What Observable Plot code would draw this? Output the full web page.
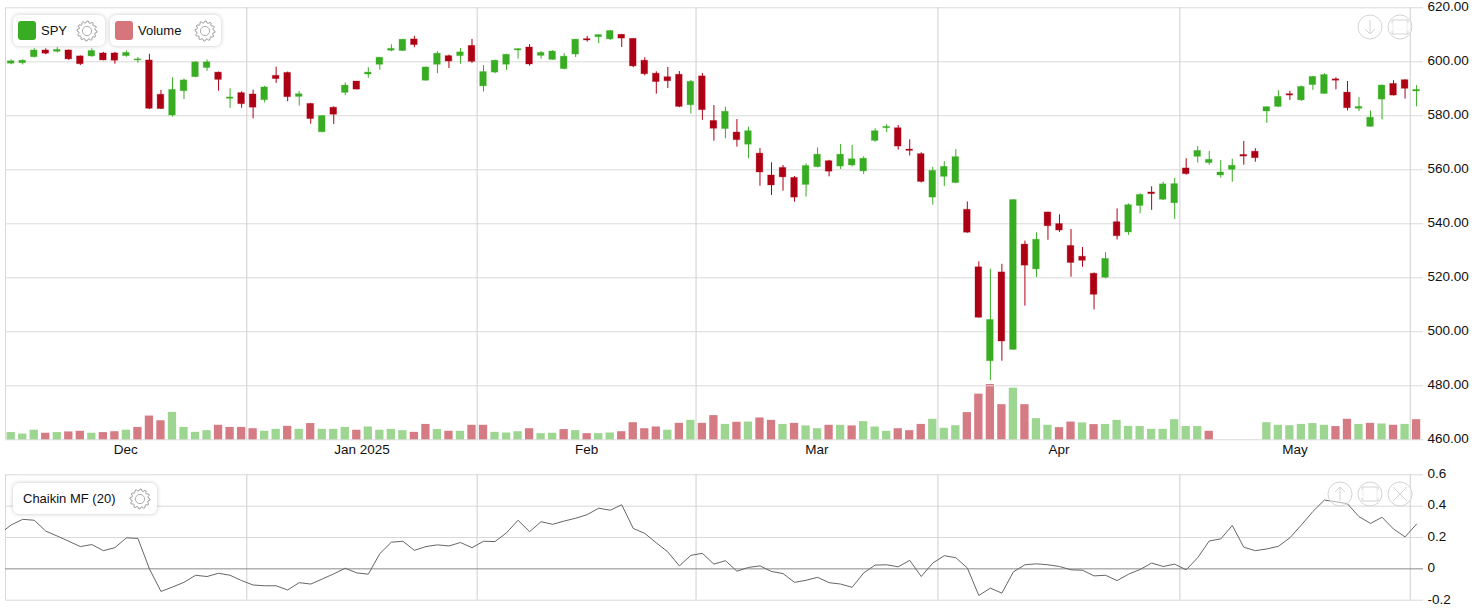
<!DOCTYPE html>
<html>
<head>
<meta charset="utf-8">
<script src="https://cdn.jsdelivr.net/npm/d3@7"></script>
<script src="https://cdn.jsdelivr.net/npm/@observablehq/plot@0.6"></script>
<style>
html,body{margin:0;padding:0;background:#fff;width:1476px;height:614px;overflow:hidden;font-family:"Liberation Sans",Arial,sans-serif;color:#111}
#stage{position:relative;width:1476px;height:614px}
.layer{position:absolute;left:0;top:0}
.legend{position:absolute;height:31px;background:#fff;border-radius:6px;box-shadow:0 0 4px rgba(0,0,0,.22);font-size:13px;line-height:32px;white-space:nowrap}
.legend span{position:absolute;top:0}
.legend i{position:absolute;top:6px;width:18px;height:19px;border-radius:3px;display:block}
.icon{position:absolute}
</style>
</head>
<body>
<div id="stage"></div>
<script>
const open = [
599.3,599.5,601.7,604.2,603.7,604.2,602.0,602.0,603.1,603.1,
602.1,600.5,600.5,587.8,580.1,589.1,594.3,597.7,596.0,586.3,
588.4,587.9,585.8,594.8,595.9,587.0,584.4,573.9,583.0,588.5,
592.7,595.3,598.9,604.1,604.0,608.3,593.0,598.9,602.1,602.1,
605.9,590.9,596.0,598.9,604.2,605.3,602.2,600.7,597.3,602.7,
608.4,609.1,608.3,610.0,608.5,600.4,595.6,594.3,595.2,583.9,
594.6,578.1,575.1,573.8,569.3,566.0,557.9,560.7,557.0,554.4,
561.0,563.2,561.2,561.6,559.4,570.7,575.4,575.4,567.5,565.8,
549.7,557.4,555.1,545.2,523.9,489.1,522.0,493.3,532.3,523.1,
544.2,539.9,531.8,527.8,521.5,520.0,540.6,536.8,546.6,551.6,
548.9,547.6,560.5,564.8,562.5,557.9,560.0,565.5,566.7,581.6,
583.3,588.0,585.7,591.4,588.1,593.5,588.6,582.6,575.9,586.0,
591.8,593.2,589.0];
const close = [
600.2,600.4,604.2,603.0,604.4,600.9,599.1,604.0,600.5,600.4,
603.3,600.9,582.6,582.5,589.6,593.1,599.8,599.8,593.3,586.8,
584.3,583.0,590.5,593.6,586.9,588.0,578.8,579.9,580.4,591.2,
589.7,596.0,601.5,604.8,608.2,606.2,597.9,603.0,600.1,603.5,
600.0,596.2,600.4,602.6,604.7,599.0,603.3,603.8,601.9,608.2,
607.9,609.9,611.4,608.6,598.3,595.4,592.5,592.8,583.3,592.6,
582.1,575.2,581.5,571.0,574.3,559.0,554.2,557.2,549.7,561.4,
565.6,559.3,565.6,563.9,564.1,574.3,575.9,568.6,567.0,555.5,
559.6,561.1,564.7,536.7,505.2,504.4,496.4,548.8,524.5,534.1,
539.1,537.5,525.5,526.3,513.7,527.0,535.4,546.9,550.7,551.0,
554.6,554.7,558.4,567.0,563.7,559.0,561.5,564.9,564.3,583.2,
587.0,587.5,590.7,594.4,595.1,593.0,582.8,583.3,579.3,591.2,
587.5,590.0,589.6];
const high = [
600.7,600.7,604.8,604.8,605.2,604.4,602.2,604.8,603.5,603.5,
604.0,601.6,602.8,589.4,594.1,593.6,600.0,600.7,596.2,590.0,
588.9,589.5,590.9,598.0,596.2,589.0,584.6,580.1,583.3,592.2,
592.7,597.8,601.6,606.3,608.3,609.4,598.1,603.7,602.5,604.9,
608.3,598.6,600.6,602.8,604.8,606.4,603.8,604.1,603.0,608.3,
609.4,610.0,611.6,610.1,608.6,601.5,596.3,597.9,596.4,593.1,
595.7,583.8,583.2,578.6,575.8,567.9,562.6,561.6,557.5,562.2,
568.1,563.5,569.4,569.0,564.8,575.2,576.7,576.4,571.1,566.3,
560.9,563.0,567.5,548.1,525.9,523.2,525.0,548.9,533.6,536.7,
544.3,543.3,537.9,531.2,521.8,529.3,545.5,547.4,551.1,553.7,
555.4,556.8,564.1,568.6,566.8,563.4,563.9,570.5,567.8,583.2,
589.3,589.1,591.0,594.6,595.6,594.1,592.7,586.7,581.8,591.4,
593.0,593.3,591.2];
const low = [
598.9,598.8,601.4,602.6,603.3,600.5,598.6,601.7,600.4,599.1,
601.7,599.5,582.3,582.3,579.5,586.0,594.1,596.5,589.1,582.8,
582.8,578.9,584.8,592.0,585.2,583.6,576.9,573.7,576.8,587.5,
589.6,593.9,596.9,603.7,603.8,605.2,592.8,595.6,597.5,599.1,
599.4,588.8,595.6,596.8,601.0,598.4,601.0,600.6,597.0,601.6,
607.3,606.7,607.9,605.3,597.8,594.8,588.0,590.1,583.0,580.7,
578.3,570.6,571.5,568.4,564.1,553.9,550.5,552.1,548.0,549.9,
560.7,557.4,560.1,561.0,558.3,570.2,573.8,567.3,565.1,555.1,
546.9,553.8,554.8,536.5,505.0,481.9,489.1,493.2,509.5,520.1,
533.9,536.8,520.2,523.9,508.1,519.6,534.0,535.7,543.7,545.0,
548.6,541.6,558.0,562.5,561.7,556.9,555.4,561.7,562.8,577.2,
583.0,585.7,585.4,589.4,588.0,589.6,581.8,581.6,575.8,578.5,
587.3,586.2,583.3];
const volume = [
36,29,47,33,36,39,42,33,36,40,
47,60,113,91,130,60,37,45,70,60,
60,54,42,51,65,51,78,51,51,60,
47,62,47,51,45,37,74,50,42,42,
70,70,37,34,40,54,31,33,50,45,
31,31,34,40,82,54,62,47,79,93,
79,115,74,84,85,104,93,74,79,67,
54,70,70,67,87,62,42,54,45,74,
98,56,68,129,215,260,166,243,166,101,
70,59,85,81,73,74,93,65,64,51,
51,96,64,64,42,0.5,0.5,0.5,0.5,82,
70,68,74,78,70,64,98,74,79,76,
70,74,96];
const volumeSide = (
"gggrgrrgrr"+"grrrggggrr"+"rrggrgrggg"+"rggggrrgrg"+"rrgggrggrg"+
"rggrrrrgrg"+"rrgrgrrgrg"+"grgrgggrrr"+"gggrrrrgrg"+"grrgrggggg"+
"ggggrggggg"+"gggggrrgrg"+"rgr").split("");
const chaikinLead = 0.224;
const chaikin = [
.280,.316,.310,.241,.209,.176,.142,.155,.116,.135,
.198,.194,0,-.144,-.116,-.086,-.041,-.049,-.028,-.041,
-.075,-.103,-.108,-.108,-.135,-.088,-.097,-.065,-.032,.004,
-.026,-.034,.097,.170,.176,.118,.142,.153,.146,.168,
.135,.176,.174,.230,.310,.237,.301,.284,.305,.323,
.346,.387,.374,.409,.258,.226,.166,.108,.019,.086,
.099,.030,.052,-.015,.009,.019,-.017,-.030,-.086,-.073,
-.054,-.088,-.097,-.118,-.026,.024,.026,.013,.054,-.049,
.037,.084,.071,.006,-.170,-.123,-.155,-.019,.026,.032,
.026,.015,-.006,-.009,-.045,-.041,-.075,-.034,-.004,.037,
.015,.030,-.006,.071,.178,.191,.277,.138,.116,.127,
.144,.198,.280,.366,.439,.428,.415,.333,.290,.329,
.254,.204,.286];
const monthEdges = [-0.55,20.45,40.45,59.45,80.45,101.45,121.45];
const monthLabels = ["Dec","Jan 2025","Feb","Mar","Apr","May"];
const priceTicks = [460,480,500,520,540,560,580,600,620];
const chaikinTicks = [-0.2,0,0.2,0.4,0.6];

const GREEN="#38ac22", RED="#ae0014", VGREEN="#9dd690", VRED="#d57b83", GRID="#d9d9d9", VGRID="#cfcfcf";
const FONT='"Liberation Sans",Arial,sans-serif';
const xDomain=[-0.495,122.6];
const W=1476, ML=5, MR=53;
const idx=close.map((_,i)=>i);
const candles=idx.map(i=>({i,open:open[i],close:close[i],high:high[i],low:low[i]}));
const up=candles.filter(d=>d.close>=d.open), down=candles.filter(d=>d.close<d.open);
const vols=idx.map(i=>({i,v:volume[i],side:volumeSide[i]}));
const mids=monthLabels.map((_,k)=>(monthEdges[k]+monthEdges[k+1])/2);
const monthByMid=new Map(mids.map((m,k)=>[m,monthLabels[k]]));
const chaikinSeries=[{i:-1,v:chaikinLead},...idx.map(i=>({i,v:chaikin[i]}))];
const stage=document.getElementById("stage");

const place=(svg,top)=>{svg.style.position="absolute";svg.style.left="0";svg.style.top=top+"px";svg.style.background="transparent";stage.appendChild(svg);};

// volume bars (own scale, same x)
const volBar=(side,fill)=>Plot.rect(vols.filter(d=>d.side===side),{x1:d=>d.i-0.36,x2:d=>d.i+0.36,y1:()=>0,y2:"v",fill});
place(Plot.plot({
  width:W,height:470,marginLeft:ML,marginRight:MR,marginTop:7.3,marginBottom:30.7,
  x:{domain:xDomain,axis:null},
  y:{domain:[0,260],range:[439.8,384],axis:null},
  marks:[volBar("g",VGREEN),volBar("r",VRED)]
}),0);

// price panel
const wick=(data,stroke)=>Plot.ruleX(data,{x:"i",y1:"low",y2:"high",stroke,strokeWidth:1});
const body=(data,fill)=>Plot.rect(data,{x1:d=>d.i-0.29,x2:d=>d.i+0.29,y1:"open",y2:"close",fill,stroke:fill,strokeOpacity:0.3,strokeWidth:1});
place(Plot.plot({
  width:W,height:470,marginLeft:ML,marginRight:MR,marginTop:7.3,marginBottom:30.7,
  style:{fontFamily:FONT,fontSize:"13.5px",color:"#111",background:"transparent"},
  x:{domain:xDomain,axis:null},
  y:{domain:[460,620],axis:null},
  marks:[
    Plot.ruleY(priceTicks,{stroke:GRID,strokeWidth:1}),
    Plot.ruleX(monthEdges.slice(1),{stroke:VGRID,strokeWidth:1}),
    Plot.ruleX([xDomain[0]],{stroke:GRID,strokeWidth:1}),
    wick(up,GREEN),wick(down,RED),body(up,GREEN),body(down,RED),
    Plot.axisY(priceTicks,{anchor:"right",tickSize:0,tickPadding:4,dy:-1,tickFormat:d3.format(".2f"),label:null,fontSize:13.5,fill:"#111"}),
    Plot.axisX(mids,{anchor:"bottom",tickSize:0,tickPadding:5,tickFormat:d=>monthByMid.get(d),label:null,fontSize:13.5,fill:"#111"})
  ]
}),0);

// Chaikin panel
place(Plot.plot({
  width:W,height:154,marginLeft:ML,marginRight:MR,marginTop:14.3,marginBottom:14.3,
  style:{fontFamily:FONT,fontSize:"13.5px",color:"#111",background:"transparent"},
  x:{domain:xDomain,axis:null},
  y:{domain:[-0.2,0.6],axis:null},
  marks:[
    Plot.ruleY(chaikinTicks.filter(t=>t!==0),{stroke:GRID,strokeWidth:1}),
    Plot.ruleX(monthEdges.slice(1),{stroke:VGRID,strokeWidth:1}),
    Plot.ruleX([xDomain[0]],{stroke:GRID,strokeWidth:1}),
    Plot.ruleY([0],{stroke:"#8a8a8a",strokeWidth:1}),
    Plot.line(chaikinSeries,{x:"i",y:"v",stroke:"#666",strokeWidth:1,clip:true,curve:"linear"}),
    Plot.axisY(chaikinTicks,{anchor:"right",tickSize:0,tickPadding:4,dy:-1,tickFormat:d=>String(d),label:null,fontSize:13.5,fill:"#111"})
  ]
}),460);

// legends and buttons
function gear(cx,cy){
  const teeth=12,pts=[];
  for(let k=0;k<teeth*4;k++){
    const a=k/(teeth*4)*2*Math.PI, r=(k%4<2)?10:8.2;
    pts.push((r*Math.cos(a)+11).toFixed(2)+","+(r*Math.sin(a)+11).toFixed(2));
  }
  return `<svg class="icon" style="left:${cx-11}px;top:${cy-11}px" width="22" height="22"><polygon points="${pts.join(" ")}" fill="none" stroke="#777" stroke-width=".7"/><circle cx="11" cy="11" r="4.6" fill="none" stroke="#999" stroke-width=".8"/></svg>`;
}
function btn(cx,cy,inner){
  return `<svg class="icon" style="left:${cx-13}px;top:${cy-13}px" width="26" height="26"><circle cx="13" cy="13" r="12" fill="#fff" fill-opacity=".5" stroke="#d4d4d4" stroke-width="1"/><g fill="none" stroke="#d4d4d4" stroke-width="1">${inner}</g></svg>`;
}
const arrowDown='<path d="M13 6V20M8 15L13 20L18 15"/>';
const arrowUp='<path d="M13 20V6M8 11L13 6L18 11"/>';
const expand='<path d="M5 9V6H21V9M5 17V20H21V17"/><path d="M6 6V20M20 6V20" stroke-opacity=".45"/>';
const closeX='<path d="M6 6L20 20M20 6L6 20"/>';
const ui=document.createElement("div");
ui.className="layer";
ui.innerHTML=`
<div class="legend" style="left:13px;top:15px;width:92px"><i style="left:5px;background:${GREEN}"></i><span style="left:28px">SPY</span></div>
<div class="legend" style="left:110px;top:15px;width:111px"><i style="left:5px;background:#d6757b"></i><span style="left:28px">Volume</span></div>
<div class="legend" style="left:13px;top:483px;width:144px"><span style="left:10px">Chaikin MF (20)</span></div>
${gear(87,31)}${gear(205,31)}${gear(140,499)}
${btn(1370,27,arrowDown)}${btn(1400,27,expand)}
${btn(1340,494,arrowUp)}${btn(1370,494,expand)}${btn(1400,494,closeX)}
`;
stage.appendChild(ui);
</script>
</body>
</html>
